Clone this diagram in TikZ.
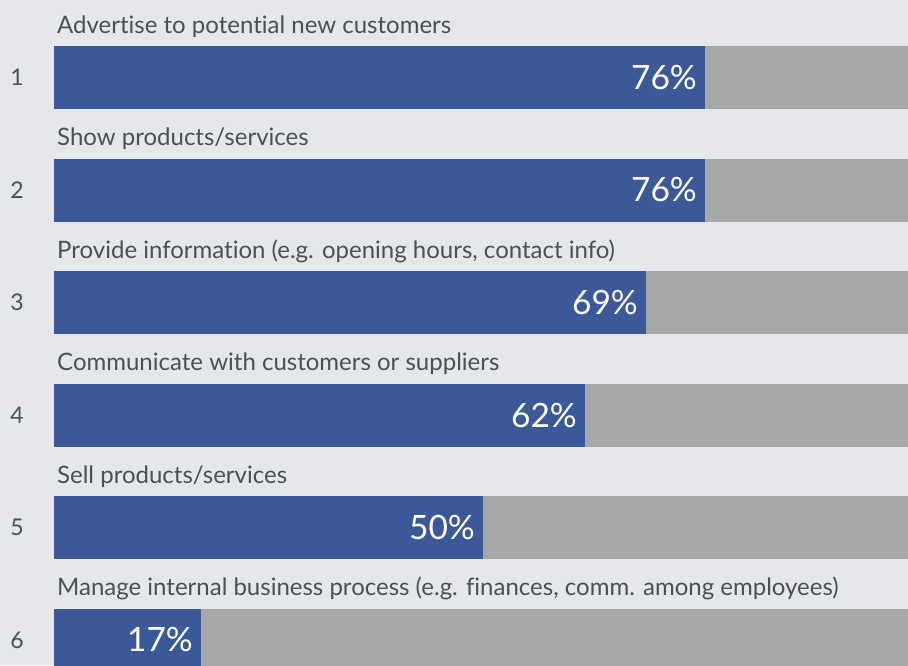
\documentclass[tikz,border=0pt]{standalone}
\usepackage{fontspec}
\setmainfont{Lato}[Ligatures=NoCommon]
\usepackage{xcolor}
\usepackage{tikz}
\definecolor{bgcol}{HTML}{E6E7EB}
\definecolor{fbblue}{HTML}{3B5998}
\definecolor{trackgray}{HTML}{A5A8A6}
\definecolor{textgray}{HTML}{4B4F56}

\begin{document}
\begin{tikzpicture}[
    x=1pt, y=-1pt,
    track/.style={fill=trackgray, anchor=north west, minimum width=854pt, minimum height=63pt, inner sep=0pt, outer sep=0pt},
    bar/.style={fill=fbblue, anchor=north west, minimum height=63pt, inner sep=0pt, outer sep=0pt},
    pct/.style={anchor=east, text=white, font=\fontsize{33.5}{34}\selectfont, inner sep=0pt},
    lab/.style={anchor=base west, text=textgray, font=\fontsize{24}{25}\selectfont, inner sep=0pt},
    num/.style={anchor=center, text=textgray, font=\fontsize{23}{24}\selectfont, inner sep=0pt}
]

% Background :
\fill[bgcol] (0, 0) rectangle (908, 665);
\useasboundingbox (0, 0) rectangle (908, 665);

% Tracks :
\node[track] (T1) at (54, 46) {};
\node[track] (T2) at (54, 158.5) {};
\node[track] (T3) at (54, 271) {};
\node[track] (T4) at (54, 383.5) {};
\node[track] (T5) at (54, 496) {};
\node[track] (T6) at (54, 608.5) {};

% Bars :
\node[bar, minimum width=651pt] (B1) at (T1.north west) {};
\node[bar, minimum width=651pt] (B2) at (T2.north west) {};
\node[bar, minimum width=592pt] (B3) at (T3.north west) {};
\node[bar, minimum width=531pt] (B4) at (T4.north west) {};
\node[bar, minimum width=429pt] (B5) at (T5.north west) {};
\node[bar, minimum width=147pt] (B6) at (T6.north west) {};

% Values :
\node[pct] (P1) at ([xshift=-8pt]B1.east) {76\%};
\node[pct] (P2) at ([xshift=-8pt]B2.east) {76\%};
\node[pct] (P3) at ([xshift=-8pt]B3.east) {69\%};
\node[pct] (P4) at ([xshift=-8pt]B4.east) {62\%};
\node[pct] (P5) at ([xshift=-8pt]B5.east) {50\%};
\node[pct] (P6) at ([xshift=-8pt]B6.east) {17\%};

% Labels :
\node[lab] (L1) at ([xshift=3pt, yshift=13pt]T1.north west) {Advertise to potential new customers};
\node[lab] (L2) at ([xshift=3pt, yshift=13pt]T2.north west) {Show products/services};
\node[lab] (L3) at ([xshift=3pt, yshift=13pt]T3.north west) {Provide information (e.g. opening hours, contact info)};
\node[lab] (L4) at ([xshift=3pt, yshift=13pt]T4.north west) {Communicate with customers or suppliers};
\node[lab] (L5) at ([xshift=3pt, yshift=13pt]T5.north west) {Sell products/services};
\node[lab] (L6) at ([xshift=3pt, yshift=13pt]T6.north west) {Manage internal business process (e.g. finances, comm. among employees)};

% Numbers :
\node[num] (N1) at ([xshift=-37pt]T1.west) {1};
\node[num] (N2) at ([xshift=-37pt]T2.west) {2};
\node[num] (N3) at ([xshift=-37pt]T3.west) {3};
\node[num] (N4) at ([xshift=-37pt]T4.west) {4};
\node[num] (N5) at ([xshift=-37pt]T5.west) {5};
\node[num] (N6) at ([xshift=-37pt]T6.west) {6};

\end{tikzpicture}
\end{document}
